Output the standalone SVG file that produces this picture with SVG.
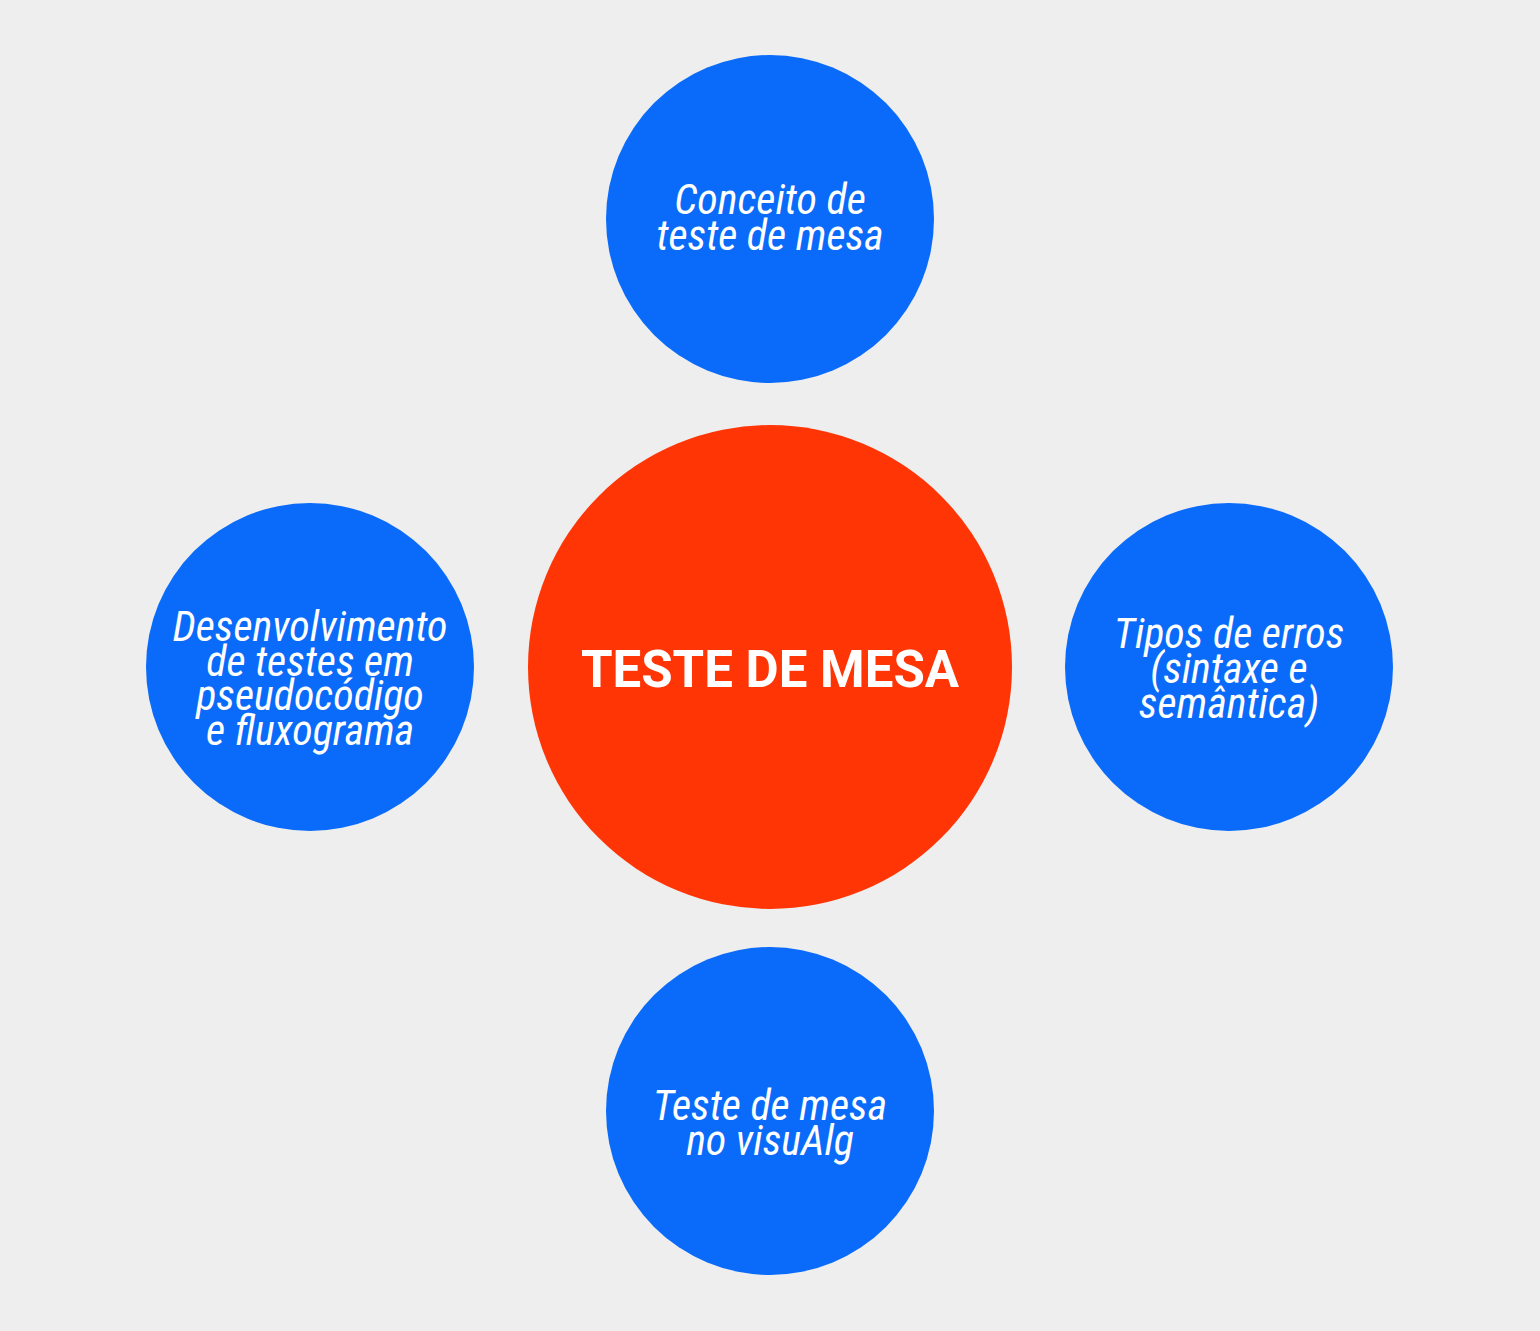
<svg xmlns="http://www.w3.org/2000/svg" width="1540" height="1331" viewBox="0 0 1540 1331">
<style>
.bg{fill:#eeeeee}
.blue{fill:#0a6bfa}
.red{fill:#ff3506}
.lbl{font-family:"Roboto Condensed",Roboto,"Liberation Sans",sans-serif;font-style:italic;font-size:42px;fill:#ffffff;text-anchor:middle}
.main{font-family:Roboto,"Liberation Sans",sans-serif;font-weight:bold;font-size:51px;fill:#ffffff;text-anchor:middle}
</style>
<rect class="bg" x="0" y="0" width="1540" height="1331"/>
<g id="connectors"></g>
<g id="center">
<circle class="red" cx="770" cy="667" r="242"/>
<text class="main" x="770" y="687">TESTE DE MESA</text>
</g>
<g id="top">
<circle class="blue" cx="770" cy="219" r="164"/>
<text class="lbl"><tspan x="770" y="214">Conceito de</tspan><tspan x="770" y="250">teste de mesa</tspan></text>
</g>
<g id="left">
<circle class="blue" cx="310" cy="667" r="164"/>
<text class="lbl"><tspan x="310" y="641">Desenvolvimento</tspan><tspan x="310" y="676">de testes em</tspan><tspan x="310" y="710">pseudocódigo</tspan><tspan x="310" y="745">e fluxograma</tspan></text>
</g>
<g id="right">
<circle class="blue" cx="1229" cy="667" r="164"/>
<text class="lbl"><tspan x="1229" y="648">Tipos de erros</tspan><tspan x="1229" y="683">(sintaxe e</tspan><tspan x="1229" y="718">semântica)</tspan></text>
</g>
<g id="bottom">
<circle class="blue" cx="770" cy="1111" r="164"/>
<text class="lbl"><tspan x="770" y="1120">Teste de mesa</tspan><tspan x="770" y="1155">no visuAlg</tspan></text>
</g>
</svg>
